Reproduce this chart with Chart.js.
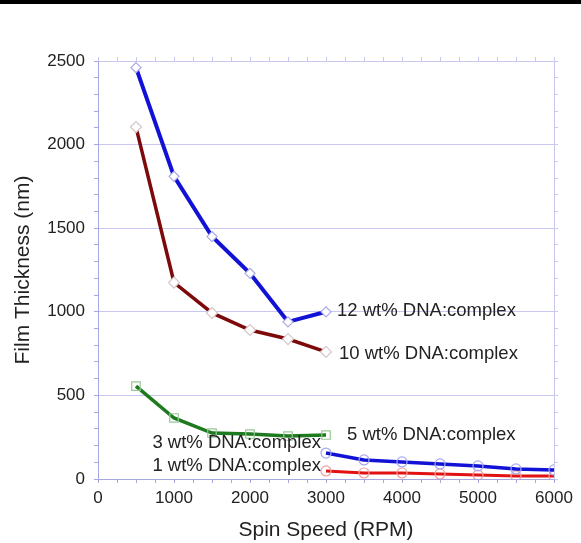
<!DOCTYPE html>
<html>
<head>
<meta charset="utf-8">
<script src="https://cdn.jsdelivr.net/npm/chart.js@4"></script>
<style>
  html, body { margin: 0; padding: 0; background: #fff; }
  #wrap { width: 581px; height: 543px; position: relative; }
</style>
</head>
<body>
<div id="wrap"><canvas id="c"></canvas></div>
<script>
// spin speeds (RPM)
const speedsLow = [500, 1000, 1500, 2000, 2500, 3000];
const speedsHigh = [3000, 3500, 4000, 4500, 5000, 5500, 6000];

// film thickness (nm)
const wt12 = [2460, 1810, 1450, 1230, 940, 1000];
const wt10 = [2105, 1175, 993, 891, 837, 760];
const wt5 = [556, 365, 275, 269, 257, 263];
const wt3 = [155, 114, 102, 90, 78, 60, 54];
const wt1 = [48, 36, 36, 30, 24, 18, 18];

const seriesNames = [
  '12 wt% DNA:complex',
  '10 wt% DNA:complex',
  '5 wt% DNA:complex',
  '3 wt% DNA:complex',
  '1 wt% DNA:complex',
];

const FONT = '"Liberation Sans", Arial, sans-serif';
const GRID = '#c8c8f0';
const AXIS = '#a8a8e0';

const toPoints = (xs, ys) => xs.map((x, i) => ({ x: x, y: ys[i] }));

// where the series names are written, in data units
const labelSpots = [
  { x: 3145, y: 1005, align: 'left' },
  { x: 3171, y: 748, align: 'left' },
  { x: 3276, y: 263, align: 'left' },
  { x: 2934, y: 215, align: 'right' },
  { x: 2934, y: 78, align: 'right' },
];

const topBar = {
  id: 'topBar',
  beforeDraw(chart) {
    const ctx = chart.ctx;
    ctx.save();
    ctx.fillStyle = '#fff';
    ctx.fillRect(0, 0, chart.width, chart.height);
    ctx.fillStyle = '#000';
    ctx.fillRect(0, 0, chart.width, 4);
    ctx.restore();
  },
};

const seriesLabels = {
  id: 'seriesLabels',
  afterDatasetsDraw(chart) {
    const ctx = chart.ctx;
    const xs = chart.scales.x;
    const ys = chart.scales.y;
    ctx.save();
    ctx.font = '18.5px ' + FONT;
    ctx.fillStyle = '#222';
    ctx.textBaseline = 'middle';
    labelSpots.forEach((spot, i) => {
      ctx.textAlign = spot.align;
      ctx.fillText(seriesNames[i], xs.getPixelForValue(spot.x), ys.getPixelForValue(spot.y));
    });
    ctx.restore();
  },
};

const data = {
  datasets: [
    {
      label: seriesNames[0],
      data: toPoints(speedsLow, wt12),
      borderColor: '#1212d6',
      borderWidth: 4,
      pointStyle: 'rectRot',
      pointRadius: 5,
      pointBorderWidth: 1.2,
      pointBorderColor: '#a8a8e8',
      pointBackgroundColor: '#fff',
    },
    {
      label: seriesNames[1],
      data: toPoints(speedsLow, wt10),
      borderColor: '#7d0a0a',
      borderWidth: 3.5,
      pointStyle: 'rectRot',
      pointRadius: 5.5,
      pointBorderWidth: 1.2,
      pointBorderColor: '#d8c8c8',
      pointBackgroundColor: '#fff',
    },
    {
      label: seriesNames[2],
      data: toPoints(speedsLow, wt5),
      borderColor: '#1e7a1e',
      borderWidth: 3.5,
      pointStyle: 'rect',
      pointRadius: 6,
      pointBorderWidth: 1.2,
      pointBorderColor: '#98c898',
      pointBackgroundColor: 'rgba(255,255,255,0)',
    },
    {
      label: seriesNames[3],
      data: toPoints(speedsHigh, wt3),
      borderColor: '#1212d6',
      borderWidth: 3.5,
      pointStyle: 'circle',
      pointRadius: 5,
      pointBorderWidth: 1.2,
      pointBorderColor: '#a8a8f0',
      pointBackgroundColor: 'rgba(255,255,255,0)',
    },
    {
      label: seriesNames[4],
      data: toPoints(speedsHigh, wt1),
      borderColor: '#e21212',
      borderWidth: 3,
      pointStyle: 'circle',
      pointRadius: 5,
      pointBorderWidth: 1.2,
      pointBorderColor: '#f0a0a0',
      pointBackgroundColor: 'rgba(255,255,255,0)',
    },
  ],
};

const config = {
  type: 'line',
  data: data,
  plugins: [topBar, seriesLabels],
  options: {
    responsive: false,
    animation: false,
    layout: { padding: 0 },
    plugins: {
      legend: { display: false },
      tooltip: { enabled: false },
    },
    scales: {
      x: {
        type: 'linear',
        position: 'bottom',
        min: 0,
        max: 6000,
        afterFit: (s) => { s.height = 64; },
        border: { color: AXIS, width: 1 },
        grid: { drawOnChartArea: false, tickLength: 4, tickColor: AXIS },
        ticks: {
          stepSize: 250,
          autoSkip: false,
          maxRotation: 0,
          padding: 5,
          color: '#222',
          font: { family: FONT, size: 17 },
          callback: (v) => (v % 1000 === 0 ? v : ''),
        },
        title: {
          display: true,
          text: 'Spin Speed (RPM)',
          color: '#222',
          font: { family: FONT, size: 21 },
          padding: { top: 0, bottom: 0 },
        },
      },
      x2: {
        type: 'linear',
        position: 'top',
        min: 0,
        max: 6000,
        afterFit: (s) => { s.height = 61; },
        border: { color: GRID, width: 1 },
        grid: { drawOnChartArea: false, tickLength: 4, tickColor: GRID },
        ticks: { stepSize: 250, autoSkip: false, callback: () => '' },
      },
      y: {
        type: 'linear',
        position: 'left',
        min: 0,
        max: 2500,
        afterFit: (s) => { s.width = 98; },
        border: { color: AXIS, width: 1 },
        grid: {
          tickLength: 4,
          tickColor: AXIS,
          color: (c) => (c.tick && c.tick.value % 500 === 0 ? GRID : 'rgba(0,0,0,0)'),
        },
        ticks: {
          stepSize: 100,
          autoSkip: false,
          padding: 9,
          color: '#222',
          font: { family: FONT, size: 17 },
          callback: (v) => (v % 500 === 0 ? v : ''),
        },
        title: {
          display: true,
          text: 'Film Thickness (nm)',
          color: '#222',
          font: { family: FONT, size: 21 },
          padding: { top: 11, bottom: 0 },
        },
      },
      y2: {
        type: 'linear',
        position: 'right',
        min: 0,
        max: 2500,
        afterFit: (s) => { s.width = 27; },
        border: { color: GRID, width: 1 },
        grid: { drawOnChartArea: false, tickLength: 4, tickColor: GRID },
        ticks: { stepSize: 100, autoSkip: false, callback: () => '' },
      },
    },
  },
};

const canvas = document.getElementById('c');
canvas.width = 581;
canvas.height = 543;
new Chart(canvas, config);
</script>
</body>
</html>
